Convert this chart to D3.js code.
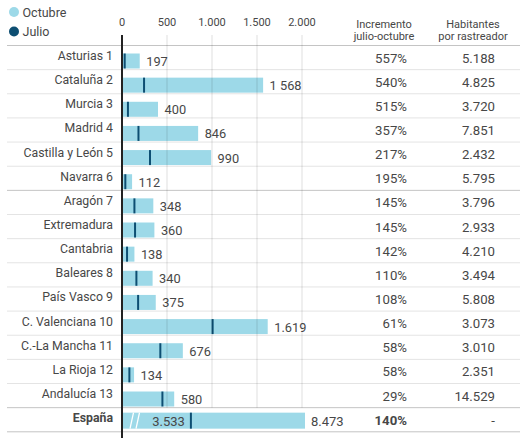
<!DOCTYPE html>
<html>
<head>
<meta charset="utf-8">
<script src="https://cdn.jsdelivr.net/npm/d3@7"></script>
<style>
  body { margin: 0; background: #fff; }
  text { font-family: Roboto, "Liberation Sans", sans-serif; fill: #474747; }
</style>
</head>
<body>
<div id="container"></div>
<script>
/* data */
const regions = ["Asturias 1", "Cataluña 2", "Murcia 3", "Madrid 4", "Castilla y León 5", "Navarra 6",
  "Aragón 7", "Extremadura", "Cantabria", "Baleares 8", "País Vasco 9", "C. Valenciana 10",
  "C.-La Mancha 11", "La Rioja 12", "Andalucía 13"];
const octubre = [197, 1568, 400, 846, 990, 112, 348, 360, 138, 340, 375, 1619, 676, 134, 580];
const julio = [30, 245, 66, 183, 311, 37, 138, 145, 56, 160, 179, 1007, 426, 82, 449];
const octLabels = ["197", "1 568", "400", "846", "990", "112", "348", "360", "138", "340", "375", "1.619", "676", "134", "580"];
const incremento = [557, 540, 515, 357, 217, 195, 145, 145, 142, 110, 108, 61, 58, 58, 29];
const habitantes = [5188, 4825, 3720, 7851, 2432, 5795, 3796, 2933, 4210, 3494, 5808, 3073, 3010, 2351, 14529];
const espana = {label: "España", octubre: 8473, julio: 3533, incremento: 140, habitantes: null};
const ticks = [0, 500, 1000, 1500, 2000];

/* layout */
const width = 520, height = 438,
    x0 = 122;

const fmt = d3.formatLocale({decimal: ",", thousands: ".", grouping: [3], currency: ["", "€"]}).format(",d");

const svg = d3.select("#container").append("svg")
  .attr("width", width)
  .attr("height", height);

const rows = regions.concat([espana.label]);

const yScale = d3.scaleBand()
  .domain(rows)
  .range([45.5, 431.8]);

const xScale = d3.scaleLinear()
  .domain([0, 2000])
  .range([x0, 302]);

// broken scale for the total row
const xEsp = d3.scaleLinear()
  .domain([0, 1200, espana.octubre])
  .range([x0, 137, 305]);

const barTop = 8, barH = 15;

// row separators
svg.selectAll(".sep")
  .data([null].concat(rows))
  .join("line")
  .attr("class", "sep")
  .attr("x1", 7).attr("x2", width)
  .attr("y1", (d, i) => i === 0 ? yScale.range()[0] : yScale(d) + yScale.bandwidth())
  .attr("y2", (d, i) => i === 0 ? yScale.range()[0] : yScale(d) + yScale.bandwidth())
  .attr("stroke", (d, i) => (i === 0 || i === 6 || i >= 15) ? "#c4c4c4" : "#e4e4e4")
  .attr("stroke-width", 1);

// bars
const main = svg.append("g");
main.selectAll(".bar")
  .data(regions)
  .join("rect")
  .attr("class", "bar")
  .attr("x", x0)
  .attr("y", d => yScale(d) + barTop)
  .attr("width", (d, i) => xScale(octubre[i]) - x0)
  .attr("height", barH)
  .attr("fill", "#9dd9e8");

// gridlines (drawn over bars, faintly)
svg.selectAll(".grid")
  .data(ticks.slice(1))
  .join("line")
  .attr("class", "grid")
  .attr("x1", d => xScale(d)).attr("x2", d => xScale(d))
  .attr("y1", 35).attr("y2", yScale(espana.label))
  .attr("stroke", "#000")
  .attr("stroke-opacity", 0.13);

// julio markers
main.selectAll(".jul")
  .data(regions)
  .join("line")
  .attr("class", "jul")
  .attr("x1", (d, i) => xScale(julio[i])).attr("x2", (d, i) => xScale(julio[i]))
  .attr("y1", d => yScale(d) + barTop).attr("y2", d => yScale(d) + barTop + barH)
  .attr("stroke", "#0d4e72")
  .attr("stroke-width", 2);

// value labels
main.selectAll(".val")
  .data(regions)
  .join("text")
  .attr("class", "val")
  .attr("x", (d, i) => xScale(octubre[i]) + 6.5)
  .attr("y", d => yScale(d) + 16)
  .attr("dominant-baseline", "central")
  .attr("font-size", 12.8)
  .text((d, i) => octLabels[i]);

// region names
svg.selectAll(".name")
  .data(rows)
  .join("text")
  .attr("class", "name")
  .attr("x", 113)
  .attr("y", d => yScale(d) + 10.5)
  .attr("text-anchor", "end")
  .attr("dominant-baseline", "central")
  .attr("font-size", 12.3)
  .attr("font-weight", d => d === espana.label ? "bold" : null)
  .text(d => d);

// columns
svg.selectAll(".inc")
  .data(rows)
  .join("text")
  .attr("class", "inc")
  .attr("x", 407)
  .attr("y", d => yScale(d) + 12.5)
  .attr("text-anchor", "end")
  .attr("dominant-baseline", "central")
  .attr("font-size", 13.2)
  .attr("font-weight", d => d === espana.label ? "bold" : null)
  .text((d, i) => (i < regions.length ? incremento[i] : espana.incremento) + "%");

svg.selectAll(".hab")
  .data(rows)
  .join("text")
  .attr("class", "hab")
  .attr("x", 495)
  .attr("y", d => yScale(d) + 12.5)
  .attr("text-anchor", "end")
  .attr("dominant-baseline", "central")
  .attr("font-size", 13.2)
  .text((d, i) => i < regions.length ? fmt(habitantes[i]) : (espana.habitantes === null ? "-" : fmt(espana.habitantes)));

// total row
const ey = yScale(espana.label);
svg.append("rect")
  .attr("x", x0).attr("y", ey + 5)
  .attr("width", xEsp(espana.octubre) - x0)
  .attr("height", 16)
  .attr("fill", "#9dd9e8");
[8, 14].forEach(off => {
  svg.append("line")
    .attr("x1", x0 + off).attr("x2", x0 + off + 3.5)
    .attr("y1", ey + 21).attr("y2", ey + 5)
    .attr("stroke", "#fff").attr("stroke-width", 1.3);
});
svg.append("line")
  .attr("x1", xEsp(espana.julio)).attr("x2", xEsp(espana.julio))
  .attr("y1", ey + 5).attr("y2", ey + 21)
  .attr("stroke", "#0d4e72").attr("stroke-width", 2);
svg.append("text")
  .attr("x", xEsp(espana.julio) - 6).attr("y", ey + 13.5)
  .attr("text-anchor", "end").attr("dominant-baseline", "central")
  .attr("font-size", 13)
  .text(fmt(espana.julio));
svg.append("text")
  .attr("x", xEsp(espana.octubre) + 6).attr("y", ey + 13.5)
  .attr("dominant-baseline", "central")
  .attr("font-size", 13)
  .text(fmt(espana.octubre));

// axis line
svg.append("line")
  .attr("x1", x0).attr("x2", x0)
  .attr("y1", 35).attr("y2", height)
  .attr("stroke", "#222").attr("stroke-width", 2);

// tick labels
svg.selectAll(".tick")
  .data(ticks)
  .join("text")
  .attr("class", "tick")
  .attr("x", d => xScale(d))
  .attr("y", 22)
  .attr("text-anchor", "middle")
  .attr("dominant-baseline", "central")
  .attr("font-size", 11)
  .text(d => fmt(d));

// column headers
const headers = [
  {x: 384, lines: ["Incremento", "julio-octubre"]},
  {x: 473, lines: ["Habitantes", "por rastreador"]}
];
headers.forEach(h => {
  h.lines.forEach((t, j) => {
    svg.append("text")
      .attr("x", h.x).attr("y", 24 + j * 12.5)
      .attr("text-anchor", "middle").attr("dominant-baseline", "central")
      .attr("font-size", 11)
      .attr("fill", "#555")
      .text(t);
  });
});

// legend
const legend = [{name: "Octubre", color: "#9dd9e8"}, {name: "Julio", color: "#0d4e72"}];
legend.forEach((l, i) => {
  svg.append("circle")
    .attr("cx", 14).attr("cy", 12 + i * 19.5).attr("r", 5)
    .attr("fill", l.color);
  svg.append("text")
    .attr("x", 22.5).attr("y", 12 + i * 19.5)
    .attr("dominant-baseline", "central")
    .attr("font-size", 12.5)
    .text(l.name);
});
</script>
</body>
</html>
